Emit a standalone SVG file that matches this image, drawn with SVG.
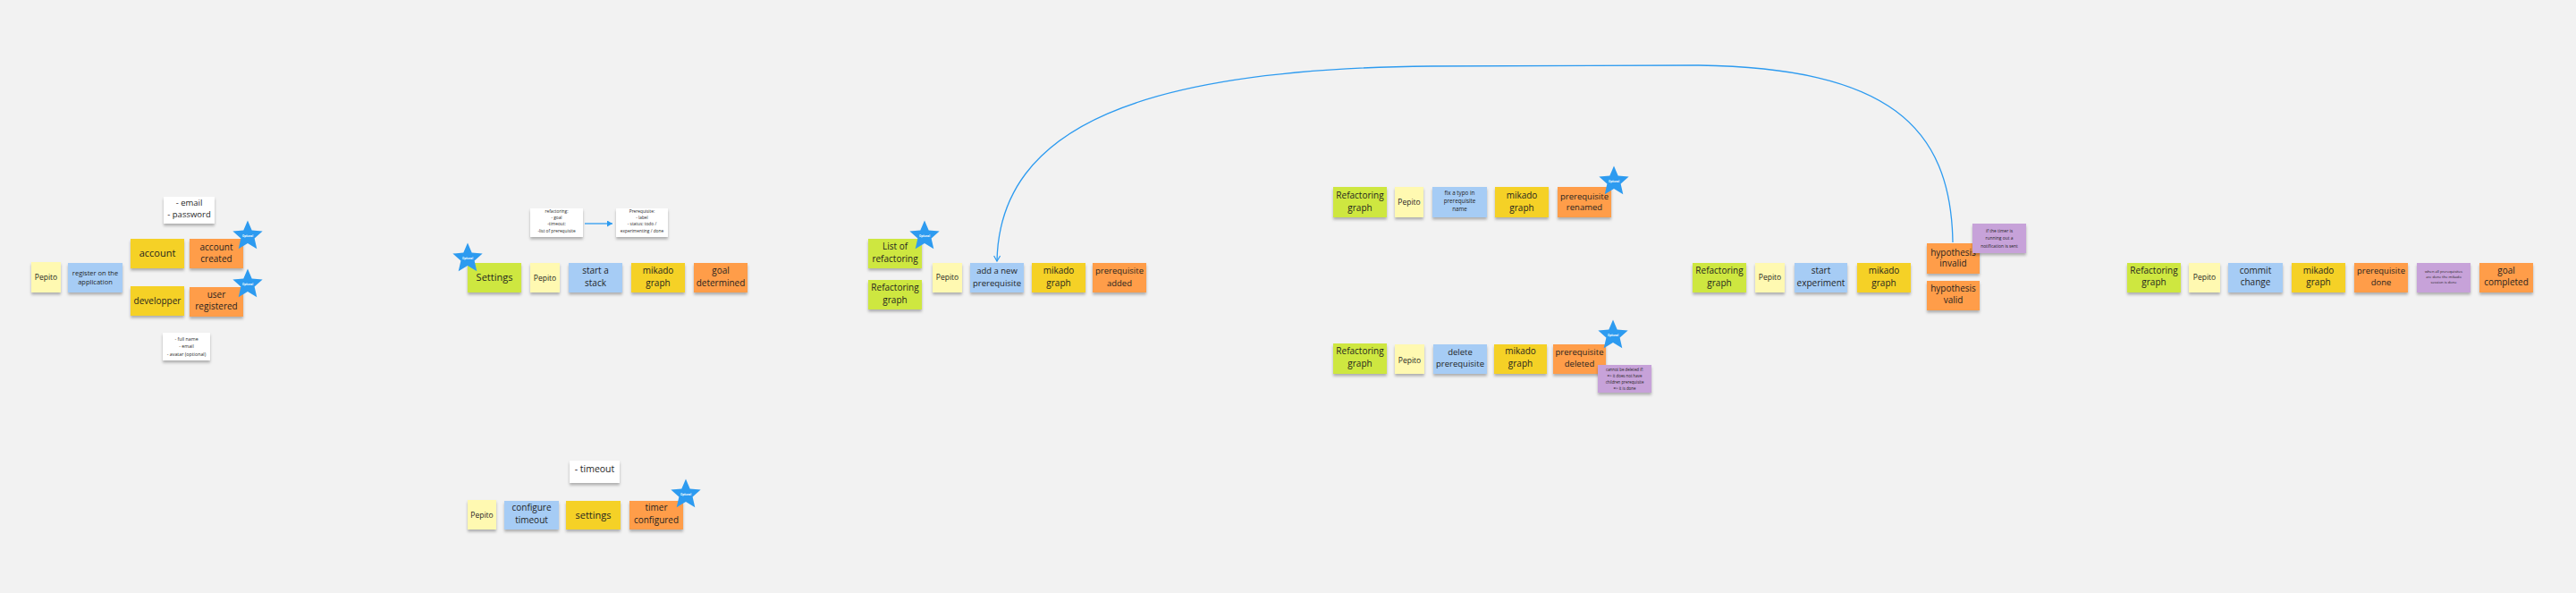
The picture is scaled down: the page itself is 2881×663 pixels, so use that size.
<svg xmlns="http://www.w3.org/2000/svg" width="2881" height="663" viewBox="0 0 2881 663">
<defs>
<filter id="sh" x="-20%" y="-20%" width="140%" height="160%">
<feDropShadow dx="0" dy="2.5" stdDeviation="1.5" flood-color="#000" flood-opacity="0.28"/>
</filter>
<path id="star" d="M0,-17.5 L4.7,-6.47 L16.64,-5.41 L7.61,2.47 L10.29,14.16 L0,8 L-10.29,14.16 L-7.61,2.47 L-16.64,-5.41 L-4.7,-6.47 Z"/>
<marker id="open" markerUnits="userSpaceOnUse" markerWidth="10" markerHeight="10" refX="7" refY="4" orient="auto">
<path d="M1,0.5 L7,4 L1,7.5" fill="none" stroke="#2d9bf0" stroke-width="1.2"/>
</marker>
<marker id="fill" markerUnits="userSpaceOnUse" markerWidth="10" markerHeight="10" refX="6" refY="3.5" orient="auto">
<path d="M0,0 L6,3.5 L0,7 Z" fill="#2d9bf0"/>
</marker>
</defs>
<style>
.n{filter:url(#sh)}
.ly{fill:#fff9b1}
.bl{fill:#a6ccf5}
.ye{fill:#f5d128}
.or{fill:#ff9d48}
.gr{fill:#cee741}
.pu{fill:#c7a2d9}
.wh{fill:#ffffff}
.t{font-family:"Open Sans","Noto Sans","Liberation Sans",sans-serif;fill:#1f1f1f;text-anchor:middle}
.f11{font-size:11px}
.f10{font-size:10px}
.f95{font-size:9.5px}
.f85{font-size:8.5px}
.st{fill:#2d9bf0}
.op{font-family:"Open Sans","Liberation Sans",sans-serif;font-size:2.8px;fill:#ffffff;text-anchor:middle;font-weight:bold}
.c{fill:none;stroke:#2d9bf0;stroke-width:1.3}
</style>
<rect x="0" y="0" width="2881" height="663" fill="#f2f2f2"/>

<g id="connectors">
<path class="c" d="M2184,271 C2182,140 2110,76 1900,73 L1600,74 C1280,77 1118,140 1115,292" marker-end="url(#open)"/>
<path class="c" d="M654,250 L685,250" marker-end="url(#fill)"/>
</g>

<!-- Cluster A: register -->
<g id="a-pepito"><rect class="n ly" x="35" y="293" width="33" height="34"/><text class="t f85" x="51.5" y="313">Pepito</text></g>
<g id="a-register"><rect class="n bl" x="76" y="294" width="61" height="33"/><text class="t" style="font-size:7.5px"><tspan x="106.5" y="307.8">register on the</tspan><tspan x="106.5" y="317.8">application</tspan></text></g>
<g id="a-account"><rect class="n ye" x="146" y="267" width="60" height="33"/><text class="t f11" x="176" y="287.4">account</text></g>
<g id="a-account-created"><rect class="n or" x="212" y="267" width="60" height="33"/><text class="t f10"><tspan x="242" y="279.8">account</tspan><tspan x="242" y="293">created</tspan></text></g>
<g id="a-developper"><rect class="n ye" x="146" y="320" width="60" height="33"/><text class="t f10" x="176" y="339.6">developper</text></g>
<g id="a-user-registered"><rect class="n or" x="212" y="321" width="60" height="33"/><text class="t f10"><tspan x="242" y="332.6">user</tspan><tspan x="242" y="346.4">registered</tspan></text></g>
<g id="a-email"><rect class="n wh" x="183" y="220" width="57" height="30"/><text class="t" style="font-size:9.5px"><tspan x="211.5" y="230">- email</tspan><tspan x="211.5" y="242.6">- password</tspan></text></g>
<g id="a-fullname"><rect class="n wh" x="182" y="372" width="53" height="31"/><text class="t" style="font-size:5.3px"><tspan x="208.5" y="380.9">- full name</tspan><tspan x="208.5" y="389.2">- email</tspan><tspan x="208.5" y="397.5">- avatar (optional)</tspan></text></g>
<g id="a-star1"><use href="#star" class="st" transform="translate(277,264)"/><text class="op" x="277" y="265">Optional</text></g>
<g id="a-star2"><use href="#star" class="st" transform="translate(277,318)"/><text class="op" x="277" y="319">Optional</text></g>

<!-- Cluster B: settings -->
<g id="b-refactoring"><rect class="n wh" x="593" y="233" width="59" height="32"/><text class="t" style="font-size:4.8px"><tspan x="622.5" y="237.5">refactoring:</tspan><tspan x="622.5" y="245">- goal</tspan><tspan x="622.5" y="252.4">-timeout:</tspan><tspan x="622.5" y="259.6">-list of prerequisite</tspan></text></g>
<g id="b-prerequisite"><rect class="n wh" x="689" y="233" width="58" height="32"/><text class="t" style="font-size:4.8px"><tspan x="718" y="237.5">Prerequisite:</tspan><tspan x="718" y="245">- label</tspan><tspan x="718" y="252.4">- status: todo /</tspan><tspan x="718" y="259.6">experimenting / done</tspan></text></g>
<g id="b-settings"><rect class="n gr" x="523" y="294" width="60" height="33"/><text class="t f11" x="553" y="314">Settings</text></g>
<g id="b-star"><use href="#star" class="st" transform="translate(523,289)"/><text class="op" x="523" y="290">Optional</text></g>
<g id="b-pepito"><rect class="n ly" x="593" y="294" width="33" height="33"/><text class="t f85" x="609.5" y="313.5">Pepito</text></g>
<g id="b-start-stack"><rect class="n bl" x="636" y="294" width="60" height="33"/><text class="t f10"><tspan x="666" y="306.3">start a</tspan><tspan x="666" y="320.3">stack</tspan></text></g>
<g id="b-mikado"><rect class="n ye" x="706" y="294" width="60" height="33"/><text class="t f10"><tspan x="736" y="306.3">mikado</tspan><tspan x="736" y="320.3">graph</tspan></text></g>
<g id="b-goal"><rect class="n or" x="776" y="294" width="60" height="33"/><text class="t f10"><tspan x="806" y="306.3">goal</tspan><tspan x="806" y="320.3">determined</tspan></text></g>

<!-- Cluster C: timeout -->
<g id="c-timeout"><rect class="n wh" x="637" y="515" width="56" height="25"/><text class="t" style="font-size:10.5px" x="665" y="527.8">- timeout</text></g>
<g id="c-pepito"><rect class="n ly" x="523" y="559" width="32" height="33"/><text class="t f85" x="539" y="579">Pepito</text></g>
<g id="c-configure"><rect class="n bl" x="564" y="560" width="61" height="32"/><text class="t f10"><tspan x="594.5" y="571.3">configure</tspan><tspan x="594.5" y="584.7">timeout</tspan></text></g>
<g id="c-settings"><rect class="n ye" x="633" y="560" width="61" height="32"/><text class="t f11" x="663.5" y="580">settings</text></g>
<g id="c-timer"><rect class="n or" x="704" y="560" width="60" height="32"/><text class="t f10"><tspan x="734" y="571.3">timer</tspan><tspan x="734" y="584.7">configured</tspan></text></g>
<g id="c-star"><use href="#star" class="st" transform="translate(767,553)"/><text class="op" x="767" y="554">Optional</text></g>

<!-- Cluster D: add prerequisite -->
<g id="d-list"><rect class="n gr" x="971" y="267" width="60" height="33"/><text class="t f10"><tspan x="1001" y="279">List of</tspan><tspan x="1001" y="293">refactoring</tspan></text></g>
<g id="d-star"><use href="#star" class="st" transform="translate(1034,264)"/><text class="op" x="1034" y="265">Optional</text></g>
<g id="d-graph"><rect class="n gr" x="971" y="313" width="60" height="33"/><text class="t f10"><tspan x="1001" y="324.8">Refactoring</tspan><tspan x="1001" y="339">graph</tspan></text></g>
<g id="d-pepito"><rect class="n ly" x="1043" y="294" width="33" height="33"/><text class="t f85" x="1059.5" y="313.3">Pepito</text></g>
<g id="d-add"><rect class="n bl" x="1085" y="294" width="60" height="33"/><text class="t f95"><tspan x="1115" y="306.3">add a new</tspan><tspan x="1115" y="320.3">prerequisite</tspan></text></g>
<g id="d-mikado"><rect class="n ye" x="1154" y="294" width="60" height="33"/><text class="t f10"><tspan x="1184" y="306.3">mikado</tspan><tspan x="1184" y="320.3">graph</tspan></text></g>
<g id="d-added"><rect class="n or" x="1222" y="294" width="60" height="33"/><text class="t f95"><tspan x="1252" y="306.3">prerequisite</tspan><tspan x="1252" y="320.3">added</tspan></text></g>

<!-- Cluster E: rename -->
<g id="e-graph"><rect class="n gr" x="1491" y="209" width="60" height="34"/><text class="t f10"><tspan x="1521" y="222.2">Refactoring</tspan><tspan x="1521" y="235.6">graph</tspan></text></g>
<g id="e-pepito"><rect class="n ly" x="1560" y="209" width="32" height="34"/><text class="t f85" x="1576" y="228.8">Pepito</text></g>
<g id="e-fix"><rect class="n bl" x="1602" y="209" width="61" height="34"/><text class="t" style="font-size:6.3px"><tspan x="1632.5" y="218.3">fix a typo in</tspan><tspan x="1632.5" y="227.3">prerequisite</tspan><tspan x="1632.5" y="236.3">name</tspan></text></g>
<g id="e-mikado"><rect class="n ye" x="1672" y="209" width="60" height="34"/><text class="t f10"><tspan x="1702" y="222.2">mikado</tspan><tspan x="1702" y="235.6">graph</tspan></text></g>
<g id="e-renamed"><rect class="n or" x="1742" y="209" width="60" height="34"/><text class="t f95"><tspan x="1772" y="223.4">prerequisite</tspan><tspan x="1772" y="235">renamed</tspan></text></g>
<g id="e-star"><use href="#star" class="st" transform="translate(1805,203)"/><text class="op" x="1805" y="204">Optional</text></g>

<!-- Cluster F: delete -->
<g id="f-graph"><rect class="n gr" x="1491" y="384" width="60" height="34"/><text class="t f10"><tspan x="1521" y="396.3">Refactoring</tspan><tspan x="1521" y="410.2">graph</tspan></text></g>
<g id="f-pepito"><rect class="n ly" x="1560" y="385" width="33" height="33"/><text class="t f85" x="1576.5" y="405.5">Pepito</text></g>
<g id="f-delete"><rect class="n bl" x="1603" y="385" width="60" height="33"/><text class="t f95"><tspan x="1633" y="396.8">delete</tspan><tspan x="1633" y="409.6">prerequisite</tspan></text></g>
<g id="f-mikado"><rect class="n ye" x="1671" y="385" width="59" height="33"/><text class="t f10"><tspan x="1700.5" y="396.3">mikado</tspan><tspan x="1700.5" y="410.2">graph</tspan></text></g>
<g id="f-deleted"><rect class="n or" x="1737" y="385" width="59" height="33"/><text class="t f95"><tspan x="1766.5" y="396.8">prerequisite</tspan><tspan x="1766.5" y="409.6">deleted</tspan></text></g>
<g id="f-star"><use href="#star" class="st" transform="translate(1804,375)"/><text class="op" x="1804" y="376">Optional</text></g>
<g id="f-note"><rect class="n pu" x="1787" y="408" width="60" height="31"/><text class="t" style="font-size:4.4px"><tspan x="1817" y="414.8">cannot be deleted if:</tspan><tspan x="1817" y="421.6">=&gt; it does not have</tspan><tspan x="1817" y="428.6">children prerequisite</tspan><tspan x="1817" y="435.8">=&gt; it is done</tspan></text></g>

<!-- Cluster G: experiment -->
<g id="g-graph"><rect class="n gr" x="1893" y="294" width="60" height="33"/><text class="t f10"><tspan x="1923" y="306.3">Refactoring</tspan><tspan x="1923" y="320">graph</tspan></text></g>
<g id="g-pepito"><rect class="n ly" x="1963" y="294" width="33" height="33"/><text class="t f85" x="1979.5" y="312.5">Pepito</text></g>
<g id="g-start"><rect class="n bl" x="2007" y="294" width="59" height="33"/><text class="t f10"><tspan x="2036.5" y="306.3">start</tspan><tspan x="2036.5" y="320">experiment</tspan></text></g>
<g id="g-mikado"><rect class="n ye" x="2077" y="294" width="60" height="33"/><text class="t f10"><tspan x="2107" y="306.3">mikado</tspan><tspan x="2107" y="320">graph</tspan></text></g>
<g id="g-invalid"><rect class="n or" x="2155" y="272" width="59" height="34"/><text class="t f10"><tspan x="2184.5" y="286">hypothesis</tspan><tspan x="2184.5" y="298">invalid</tspan></text></g>
<g id="g-valid"><rect class="n or" x="2155" y="314" width="59" height="33"/><text class="t f10"><tspan x="2184.5" y="325.6">hypothesis</tspan><tspan x="2184.5" y="339">valid</tspan></text></g>
<g id="g-note"><rect class="n pu" x="2206" y="250" width="60" height="33"/><text class="t" style="font-size:4.9px"><tspan x="2236" y="260.1">if the timer is</tspan><tspan x="2236" y="268">running out a</tspan><tspan x="2236" y="276.5">notification is sent</tspan></text></g>

<!-- Cluster H: commit -->
<g id="h-graph"><rect class="n gr" x="2379" y="294" width="60" height="33"/><text class="t f10"><tspan x="2409" y="306.3">Refactoring</tspan><tspan x="2409" y="319.2">graph</tspan></text></g>
<g id="h-pepito"><rect class="n ly" x="2448" y="294" width="35" height="33"/><text class="t f85" x="2465.5" y="313">Pepito</text></g>
<g id="h-commit"><rect class="n bl" x="2492" y="294" width="61" height="33"/><text class="t f10"><tspan x="2522.5" y="306.3">commit</tspan><tspan x="2522.5" y="319.2">change</tspan></text></g>
<g id="h-mikado"><rect class="n ye" x="2563" y="294" width="60" height="33"/><text class="t f10"><tspan x="2593" y="306.3">mikado</tspan><tspan x="2593" y="319.2">graph</tspan></text></g>
<g id="h-done"><rect class="n or" x="2633" y="294" width="60" height="33"/><text class="t f95"><tspan x="2663" y="306.3">prerequisite</tspan><tspan x="2663" y="319.2">done</tspan></text></g>
<g id="h-note"><rect class="n pu" x="2703" y="294" width="60" height="33"/><text class="t" style="font-size:4.1px"><tspan x="2733" y="304.8">when all prerequisites</tspan><tspan x="2733" y="310.8">are done the mikado</tspan><tspan x="2733" y="317.2">session is done</tspan></text></g>
<g id="h-goal"><rect class="n or" x="2773" y="294" width="60" height="33"/><text class="t f10"><tspan x="2803" y="306.3">goal</tspan><tspan x="2803" y="319.2">completed</tspan></text></g>
</svg>
